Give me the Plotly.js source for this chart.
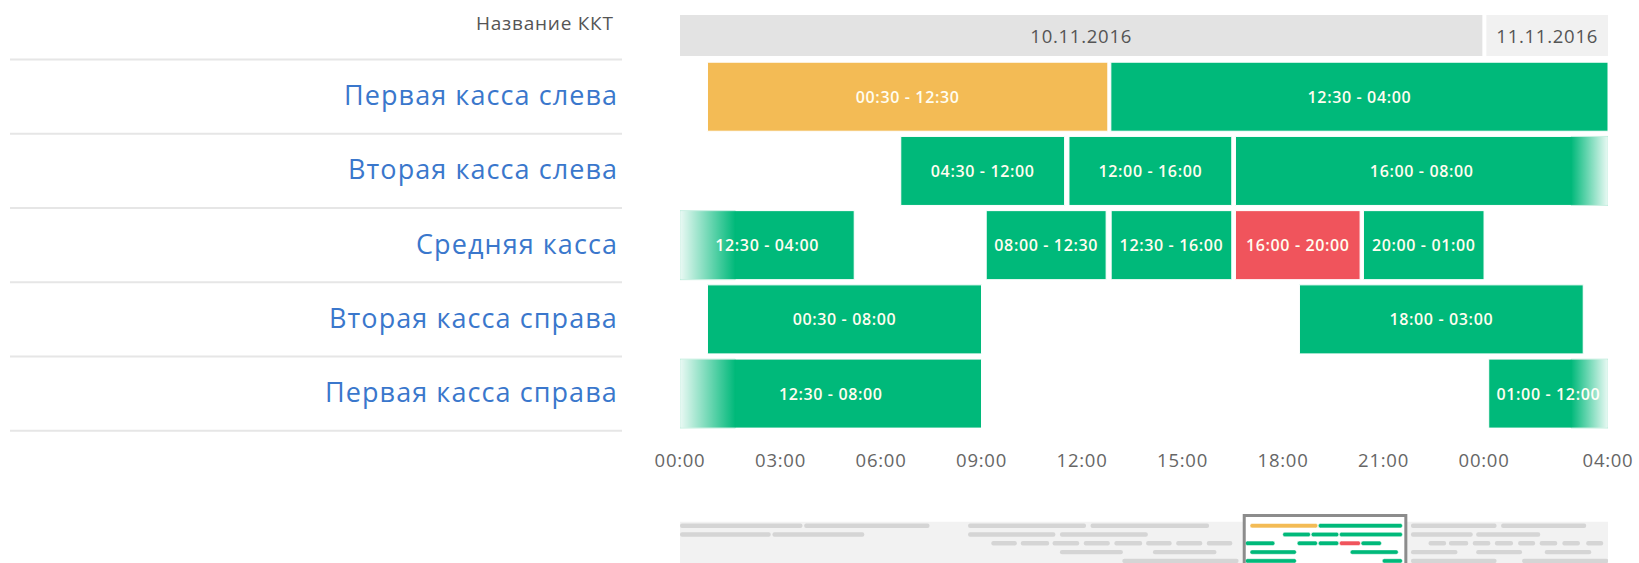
<!DOCTYPE html>
<html><head><meta charset="utf-8">
<script src="https://cdn.plot.ly/plotly-3.0.1.min.js"></script>
<style>
html,body{margin:0;padding:0;background:#fff;}
#chart{width:1639px;height:563px;}
svg text{letter-spacing:0.04em;}
</style></head><body><div id="chart"></div>
<script>
// ---- data ----
const headerTitle = 'Название ККТ';
const rowNames = ['Первая касса слева','Вторая касса слева','Средняя касса','Вторая касса справа','Первая касса справа'];
const dayLabels = ['10.11.2016','11.11.2016'];
const dayStart = [0, 24.07];
const dayEnd = [23.95, 27.7];
const tickHours = [0,3,6,9,12,15,18,21,24,27.7];
const tickLabels = ['00:00','03:00','06:00','09:00','12:00','15:00','18:00','21:00','00:00','04:00'];
const shiftRow    = [0,0, 1,1,1, 2,2,2,2,2, 3,3, 4,4];
const shiftStart  = [0.82,12.86, 6.59,11.61,16.58, 0,9.14,12.87,16.58,20.4, 0.82,18.49, 0,24.14];
const shiftEnd    = [12.77,27.7, 11.48,16.47,27.7, 5.2,12.72,16.47,20.3,24.0, 9.0,26.96, 9.0,27.7];
const shiftLabel  = ['00:30 - 12:30','12:30 - 04:00','04:30 - 12:00','12:00 - 16:00','16:00 - 08:00','12:30 - 04:00','08:00 - 12:30','12:30 - 16:00','16:00 - 20:00','20:00 - 01:00','00:30 - 08:00','18:00 - 03:00','12:30 - 08:00','01:00 - 12:00'];
const shiftStatus = ['warn','ok','ok','ok','ok','ok','ok','ok','err','ok','ok','ok','ok','ok'];
const shiftFade   = ['','','','','right','left','','','','','','','left','right'];
// overview strip (other days, grey)
const miniRow   = [0,0,0,0,0,0, 1,1,1,1,1,1, 2,2,2,2,2,2,2,2,2,2,2,2,2,2,2,2, 3,3,3,3,3, 4,4,4];
const miniStart = [-99.7,-77.8,-48.9,-27.3,29.2,45.1, -99.7,-83.4,-48.9,-32.7,29.2,40.7, -44.8,-39.6,-34.0,-28.5,-23.1,-17.5,-12.2,-6.8,32.3,35.9,40.1,44.0,48.1,51.9,55.9,60.1, -32.7,-16.3,29.2,40.7,52.8, -21.7,29.2,48.8];
const miniEnd   = [-78.1,-55.7,-28.1,-6.4,44.3,60.1, -83.7,-67.2,-33.5,-17.2,40.1,52.0, -40.3,-34.6,-29.3,-23.9,-18.2,-13.0,-7.6,-2.3,35.4,39.3,43.2,47.2,51.1,55.0,59.0,63.1, -21.6,-5.1,37.4,48.8,61.0, -1.2,44.3,64.0];

// ---- style ----
const statusColor = {ok:'#00b97a', warn:'#f3bb55', err:'#f0545c'};
const viewRange = [0, 27.7];
const miniRange = [-99.7, 63.95];
const fadeL = 1.65, fadeR = 1.1, barW = 0.93;
const H = 548, bottomPx = 563;
const py = p => (bottomPx - p) / H;
const mainDom = [py(430.7), py(59.6)];
const headDom = [py(56), 1];
const miniDom = [0, py(521.7)];

const traces = [];
traces.push({
  type:'bar', orientation:'h', xaxis:'x', yaxis:'y2',
  y: dayLabels.map(() => 0), base: dayStart, x: dayEnd.map((e,i) => e - dayStart[i]),
  width: 1, marker:{color:['#e3e3e3','#f1f1f1'], line:{width:0}},
  text: dayLabels, textposition:'inside', insidetextanchor:'middle', constraintext:'none',
  textfont:{size:18.5, color:'#555'}, hoverinfo:'skip', showlegend:false
});
traces.push({
  type:'bar', orientation:'h', xaxis:'x', yaxis:'y',
  y: shiftRow, base: shiftStart, x: shiftEnd.map((e,i) => e - shiftStart[i]),
  width: barW, marker:{color: shiftStatus.map(s => statusColor[s]), line:{color:'#ffffff', width:1}},
  text: shiftLabel, textposition:'inside', insidetextanchor:'middle', constraintext:'none',
  textfont:{size:16, color:'#fffdf0', weight:600}, hoverinfo:'skip', showlegend:false
});
shiftFade.forEach((f,i) => {
  if (!f) return;
  const r = shiftRow[i], h = barW/2;
  const x0 = f === 'left' ? shiftStart[i] : shiftEnd[i] - fadeR;
  const x1 = f === 'left' ? shiftStart[i] + fadeL : shiftEnd[i];
  const cs = f === 'left'
    ? [[0,'rgba(255,255,255,0.92)'],[1,'rgba(255,255,255,0)']]
    : [[0,'rgba(255,255,255,0)'],[1,'rgba(255,255,255,0.92)']];
  traces.push({
    type:'scatter', mode:'lines', xaxis:'x', yaxis:'y',
    x:[x0,x1,x1,x0,x0], y:[r-h,r-h,r+h,r+h,r-h], fill:'toself',
    fillcolor:'rgba(255,255,255,0.5)',
    fillgradient:{type:'horizontal', colorscale: cs},
    line:{width:1, color:'rgba(0,185,122,0.2)'}, hoverinfo:'skip', showlegend:false
  });
});
traces.push({
  type:'bar', orientation:'h', xaxis:'x2', yaxis:'y3',
  y: miniRow, base: miniStart, x: miniEnd.map((e,i) => e - miniStart[i]),
  width:0.5, marker:{color:'#d5d5d5', cornerradius:2, line:{width:0}},
  hoverinfo:'skip', showlegend:false
});
traces.push({
  type:'bar', orientation:'h', xaxis:'x2', yaxis:'y3',
  y: shiftRow, base: shiftStart, x: shiftEnd.map((e,i) => e - shiftStart[i]),
  width:0.5, marker:{color: shiftStatus.map(s => statusColor[s]), cornerradius:2, line:{color:'#fff', width:0.5}},
  hoverinfo:'skip', showlegend:false
});

const shapes = [];
for (let i = 0; i <= rowNames.length; i++) {
  const y = mainDom[1] - i * (mainDom[1] - mainDom[0]) / rowNames.length;
  shapes.push({type:'line', xref:'paper', yref:'paper', x0:-0.722, x1:-0.0625, y0:y, y1:y,
    line:{color:'#e6e6e6', width:2}});
}
shapes.push({type:'rect', xref:'paper', yref:'paper', x0:0, x1:1, y0:0, y1:miniDom[1],
  fillcolor:'#f2f2f2', line:{width:0}, layer:'below'});
shapes.push({type:'rect', xref:'x2', yref:'paper', x0:viewRange[0]-0.2, x1:viewRange[1]+0.6, y0:-0.05, y1:py(515.5),
  fillcolor:'#ffffff', line:{width:0}, layer:'below'});
shapes.push({type:'rect', xref:'x2', yref:'paper', x0:viewRange[0]-0.2, x1:viewRange[1]+0.6, y0:-0.05, y1:py(515.5),
  fillcolor:'rgba(0,0,0,0)', line:{color:'#8c8c8c', width:3}, layer:'above'});

const annotations = rowNames.map((n,i) => ({
  xref:'paper', yref:'y', x:-0.0645, y:i, xanchor:'right', yanchor:'middle', yshift:2,
  text:n, showarrow:false, font:{size:27, color:'#3a77cc'}
}));
annotations.push({xref:'paper', yref:'paper', x:-0.069, y:py(23), xanchor:'right', yanchor:'middle',
  text:headerTitle, showarrow:false, font:{size:19, color:'#555'}});

const layout = {
  width:1639, height:563, margin:{l:680, r:31, t:15, b:0},
  paper_bgcolor:'#fff', plot_bgcolor:'#fff', barmode:'overlay', showlegend:false,
  font:{family:'Open Sans, sans-serif'},
  xaxis:{domain:[0,1], anchor:'y', range:viewRange, tickmode:'array', tickvals:tickHours, ticktext:tickLabels,
    showgrid:false, zeroline:false, showline:false, ticks:'', ticklabelstandoff:17,
    tickfont:{size:18.5, color:'#666'}, fixedrange:true},
  yaxis:{domain:mainDom, range:[rowNames.length-0.5, -0.5], visible:false, fixedrange:true},
  yaxis2:{domain:headDom, range:[-0.5,0.5], visible:false, anchor:'x'},
  xaxis2:{domain:[0,1], anchor:'y3', range:miniRange, visible:false},
  yaxis3:{domain:miniDom, range:[4.24,-0.455], visible:false, anchor:'x2'},
  shapes: shapes, annotations: annotations
};
Plotly.newPlot('chart', traces, layout, {displayModeBar:false, staticPlot:true});
</script></body></html>
